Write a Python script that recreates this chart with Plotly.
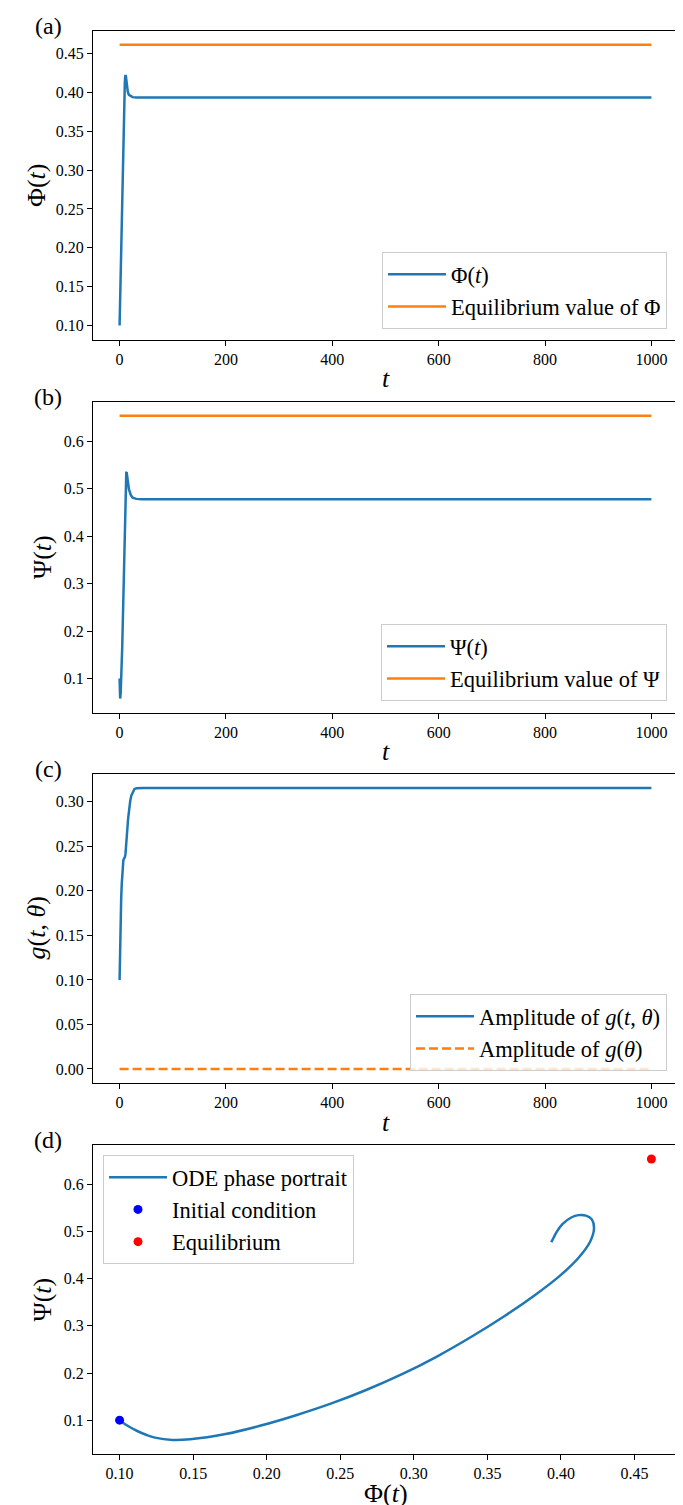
import plotly.graph_objects as go

# ---------------- data ----------------
t_ode = [0, 0.175, 0.35, 0.525, 0.7, 1.05, 1.4, 2.1, 2.8, 3.5, 4.2, 4.9, 5.6, 6.3, 7.0, 7.7, 8.4,
         9.1, 9.8, 10.5, 11.2, 11.9, 12.6, 13.3, 14.0, 15.4, 17.5, 21.0, 24.5, 31.5, 42.0, 1000]
phi = [0.100, 0.106, 0.112, 0.118, 0.124, 0.136, 0.148, 0.172, 0.196, 0.220, 0.244, 0.268, 0.292,
       0.316, 0.340, 0.362, 0.382, 0.399, 0.412, 0.420, 0.4225, 0.421, 0.417, 0.412,
       0.407, 0.401, 0.397, 0.395, 0.3940, 0.3936, 0.3935, 0.3935]
psi = [0.100, 0.087, 0.077, 0.069, 0.063, 0.058, 0.0595, 0.0705, 0.0885, 0.1105, 0.1355, 0.1645,
       0.1975, 0.2355, 0.2785, 0.3215, 0.3645, 0.4055, 0.4445, 0.4795, 0.5075, 0.526, 0.534,
       0.535, 0.530, 0.516, 0.499, 0.487, 0.481, 0.4785, 0.4775, 0.4775]

t_eq = [0, 1000]
phi_eq = 0.4615
psi_eq = 0.654

t_g = [0, 1, 2, 3, 4, 5, 6, 7, 8, 9, 10, 11, 12, 13, 14, 16, 18, 20, 22, 25, 28, 32, 36, 45, 1000]
g_amp = [0.100, 0.150, 0.175, 0.192, 0.207, 0.220, 0.229, 0.234, 0.236, 0.237, 0.238,
         0.241, 0.247, 0.256, 0.265, 0.281, 0.293, 0.301, 0.307, 0.312, 0.3145, 0.3153,
         0.3155, 0.3155, 0.3155]
g_eq_amp = 0.0

x_ticks_t = [0, 200, 400, 600, 800, 1000]
y_ticks_a = [0.10, 0.15, 0.20, 0.25, 0.30, 0.35, 0.40, 0.45]
y_ticks_b = [0.1, 0.2, 0.3, 0.4, 0.5, 0.6]
y_ticks_c = [0.00, 0.05, 0.10, 0.15, 0.20, 0.25, 0.30]
x_ticks_d = [0.10, 0.15, 0.20, 0.25, 0.30, 0.35, 0.40, 0.45]
y_ticks_d = [0.1, 0.2, 0.3, 0.4, 0.5, 0.6]

# ---------------- styling ----------------
W, H = 683, 1505
BLUE = "#1f77b4"
ORANGE = "#ff7f0e"
FONT = "Liberation Serif"
LW = 2.5


def px_x(x):
    return x / W


def px_y(y):
    return 1 - y / H


def pad_range(vals):
    lo, hi = min(vals), max(vals)
    m = (hi - lo) * 0.05
    return [lo - m, hi + m]


frame_left, frame_right = 85, 670
frames = [(22.7, 331.5), (393.5, 704.5), (766, 1075), (1137, 1446)]

fig = go.Figure()

# (a)
fig.add_trace(go.Scatter(x=t_ode, y=phi, mode="lines", line=dict(color=BLUE, width=LW),
                         name="Φ(<i>t</i>)", legend="legend", xaxis="x", yaxis="y"))
fig.add_trace(go.Scatter(x=t_eq, y=[phi_eq] * 2, mode="lines", line=dict(color=ORANGE, width=LW),
                         name="Equilibrium value of Φ", legend="legend", xaxis="x", yaxis="y"))
# (b)
fig.add_trace(go.Scatter(x=t_ode, y=psi, mode="lines", line=dict(color=BLUE, width=LW),
                         name="Ψ(<i>t</i>)", legend="legend2", xaxis="x2", yaxis="y2"))
fig.add_trace(go.Scatter(x=t_eq, y=[psi_eq] * 2, mode="lines", line=dict(color=ORANGE, width=LW),
                         name="Equilibrium value of Ψ", legend="legend2", xaxis="x2", yaxis="y2"))
# (c)
fig.add_trace(go.Scatter(x=t_g, y=g_amp, mode="lines", line=dict(color=BLUE, width=LW),
                         name="Amplitude of <i>g</i>(<i>t</i>, <i>θ</i>)", legend="legend3",
                         xaxis="x3", yaxis="y3"))
fig.add_trace(go.Scatter(x=t_eq, y=[g_eq_amp] * 2, mode="lines",
                         line=dict(color=ORANGE, width=LW, dash="9px,4px"),
                         name="Amplitude of <i>g</i>(<i>θ</i>)", legend="legend3",
                         xaxis="x3", yaxis="y3"))
# (d)
fig.add_trace(go.Scatter(x=phi, y=psi, mode="lines",
                         line=dict(color=BLUE, width=LW, shape="spline", smoothing=1.0),
                         name="ODE phase portrait", legend="legend4", xaxis="x4", yaxis="y4"))
fig.add_trace(go.Scatter(x=[phi[0]], y=[psi[0]], mode="markers",
                         marker=dict(color="blue", size=9),
                         name="Initial condition", legend="legend4", xaxis="x4", yaxis="y4"))
fig.add_trace(go.Scatter(x=[phi_eq], y=[psi_eq], mode="markers",
                         marker=dict(color="red", size=9),
                         name="Equilibrium", legend="legend4", xaxis="x4", yaxis="y4"))

axis_common = dict(showline=True, mirror=True, linecolor="black", linewidth=1,
                   ticks="outside", ticklen=5, tickwidth=1, tickcolor="black",
                   showgrid=False, zeroline=False,
                   tickfont=dict(family=FONT, size=16, color="black"))

x_dom = [px_x(frame_left), px_x(frame_right)]
t_range = pad_range(t_eq)

layout = dict(width=W, height=H, margin=dict(l=0, r=0, t=0, b=0),
              paper_bgcolor="white", plot_bgcolor="white",
              font=dict(family=FONT, color="black"), showlegend=True)

yranges = [pad_range(phi + [phi_eq]), pad_range(psi + [psi_eq]),
           pad_range(g_amp + [g_eq_amp]), pad_range(psi + [psi_eq])]
yticks = [(y_ticks_a, ".2f"), (y_ticks_b, ".1f"), (y_ticks_c, ".2f"), (y_ticks_d, ".1f")]

for i in range(4):
    sfx = "" if i == 0 else str(i + 1)
    top, bot = frames[i]
    if i < 3:
        xr, xt, xf = t_range, x_ticks_t, "d"
    else:
        xr, xt, xf = pad_range(phi + [phi_eq]), x_ticks_d, ".2f"
    layout["xaxis" + sfx] = dict(axis_common, domain=x_dom, range=xr, tickvals=xt,
                                 tickformat=xf, anchor="y" + sfx)
    layout["yaxis" + sfx] = dict(axis_common, domain=[px_y(bot), px_y(top)], range=yranges[i],
                                 tickvals=yticks[i][0], tickformat=yticks[i][1],
                                 anchor="x" + sfx)

leg_common = dict(bgcolor="rgba(255,255,255,0.8)", bordercolor="#cccccc", borderwidth=1,
                  font=dict(family=FONT, size=22.5, color="black"), itemwidth=58,
                  traceorder="normal")
layout["legend"] = dict(leg_common, x=px_x(659), y=px_y(321), xanchor="right", yanchor="bottom")
layout["legend2"] = dict(leg_common, x=px_x(659), y=px_y(693), xanchor="right", yanchor="bottom")
layout["legend3"] = dict(leg_common, x=px_x(659), y=px_y(1063), xanchor="right", yanchor="bottom")
layout["legend4"] = dict(leg_common, x=px_x(95), y=px_y(1147), xanchor="left", yanchor="top")

annotations = []
xtitles = ["<i>t</i>", "<i>t</i>", "<i>t</i>", "Φ(<i>t</i>)"]
ytitles = ["Φ(<i>t</i>)", "Ψ(<i>t</i>)", "<i>g</i>(<i>t</i>, <i>θ</i>)", "Ψ(<i>t</i>)"]
ytitle_x = [28, 34, 28, 34]
labels = ["(a)", "(b)", "(c)", "(d)"]
for i in range(4):
    top, bot = frames[i]
    annotations.append(dict(text=xtitles[i], x=px_x((frame_left + frame_right) / 2),
                            y=px_y(bot + 39), xref="paper", yref="paper",
                            xanchor="center", yanchor="middle", showarrow=False,
                            font=dict(family=FONT, size=26, color="black")))
    annotations.append(dict(text=ytitles[i], x=px_x(ytitle_x[i]), y=px_y((top + bot) / 2),
                            xref="paper", yref="paper", textangle=-90,
                            xanchor="center", yanchor="middle", showarrow=False,
                            font=dict(family=FONT, size=26, color="black")))
    annotations.append(dict(text=labels[i], x=px_x(40), y=px_y(top - 5),
                            xref="paper", yref="paper", xanchor="center", yanchor="middle",
                            showarrow=False, font=dict(family=FONT, size=24, color="black")))
layout["annotations"] = annotations

fig.update_layout(**layout)
fig.write_html("out.html")
